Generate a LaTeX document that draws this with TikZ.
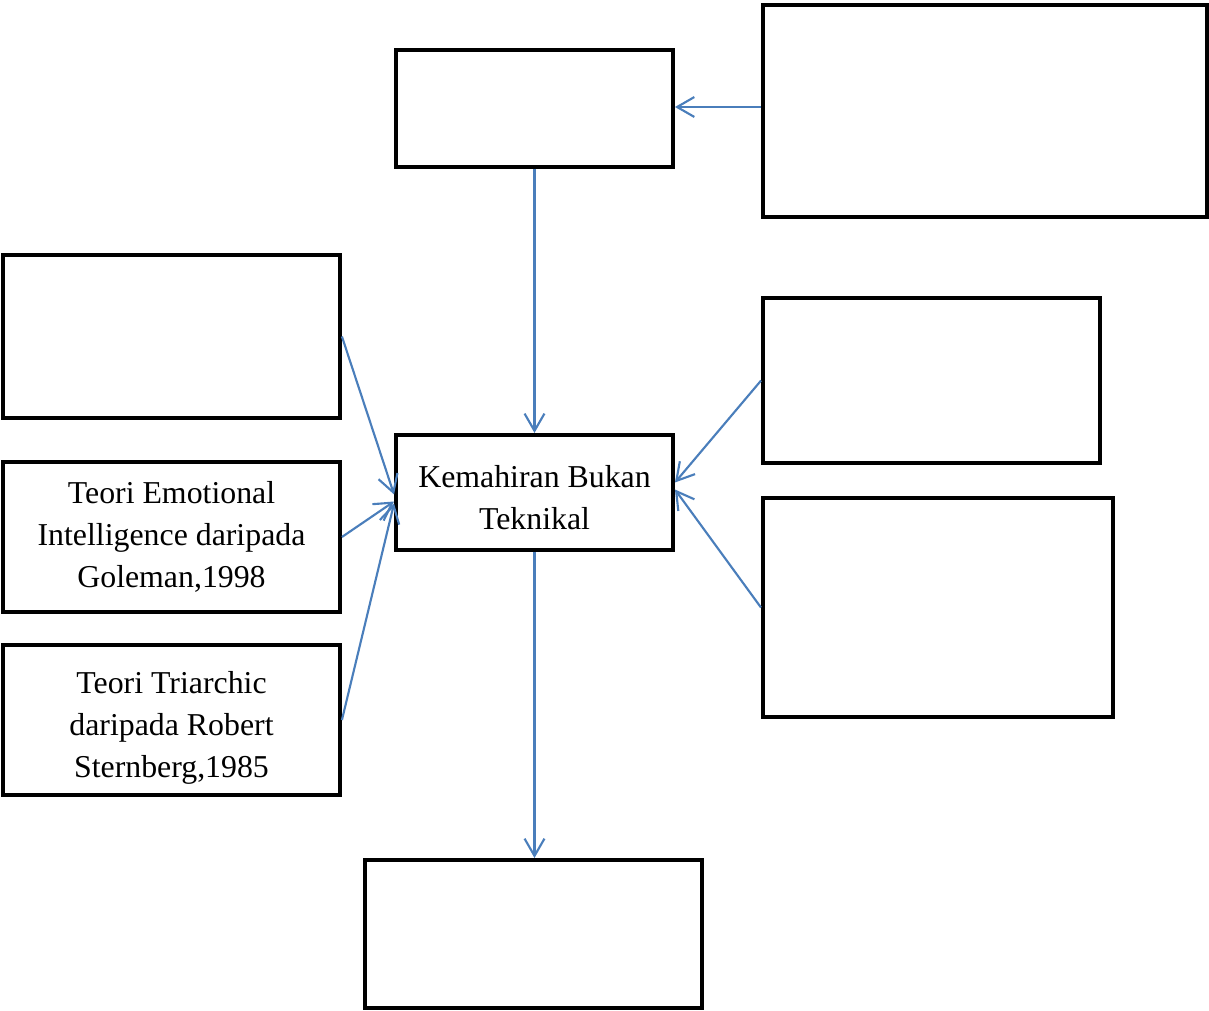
\documentclass[tikz,border=0pt]{standalone}
\usepackage{fontspec}
\setmainfont{Liberation Serif}
\usetikzlibrary{calc,arrows.meta}

\definecolor{linkblue}{RGB}{74,126,187}

\begin{document}
\begin{tikzpicture}[x=0.377pt, y=-0.377pt,
  box/.style={rectangle, draw=black, line width=1.5pt, inner sep=0pt},
  boxtext/.style={align=center, inner sep=0pt, font=\fontsize{12}{15.8}\selectfont},
  link/.style={draw=linkblue, line width=0.8pt, -{Straight Barb[length=6.5pt,width=7.5pt]}}]
  \useasboundingbox (0,0) rectangle (1209,1011);

  \node[box, minimum width=104.4pt, minimum height=44.1pt](Top) at (534.5,108.5){};
  \node[box, minimum width=167.4pt, minimum height=79.9pt](TopRight) at (985,111){};
  \node[box, minimum width=104.4pt, minimum height=43.4pt,
    label={[boxtext, yshift=-2pt]center:{Kemahiran Bukan\\Teknikal}}](Skill) at (534.5,492.5){};
  \node[box, minimum width=127pt, minimum height=61.5pt](LeftA) at (171.5,336.5){};
  \node[box, minimum width=127pt, minimum height=56.6pt,
    label={[boxtext]center:{Teori Emotional\\Intelligence daripada\\Goleman,1998}}](Goleman) at (171.5,537){};
  \node[box, minimum width=127pt, minimum height=56.6pt,
    label={[boxtext, yshift=-3pt]center:{Teori Triarchic\\daripada Robert\\Sternberg,1985}}](Sternberg) at (171.5,720){};
  \node[box, minimum width=127pt, minimum height=62.2pt](RightA) at (931.5,380.5){};
  \node[box, minimum width=132pt, minimum height=82.6pt](RightB) at (938,607.5){};
  \node[box, minimum width=127pt, minimum height=55.8pt](Bottom) at (533.5,934){};
  \coordinate (TRout) at ($(TopRight.west)+(0,-4)$);

  \path
  (TRout) edge[link] (TRout -| Top.east)
  (Top.south) edge[link] (Skill.north)
  (LeftA.east) edge[link] ($(Skill.west)+(0,2)$)
  (Goleman.east) edge[link] ($(Skill.west)+(0,9)$)
  (Sternberg.east) edge[link] ($(Skill.west)+(0,11)$)
  (RightA.west) edge[link] ($(Skill.east)+(0,-10)$)
  (RightB.west) edge[link] ($(Skill.east)+(0,-3)$)
  (Skill.south) edge[link] (Skill.south |- Bottom.north);
\end{tikzpicture}
\end{document}
